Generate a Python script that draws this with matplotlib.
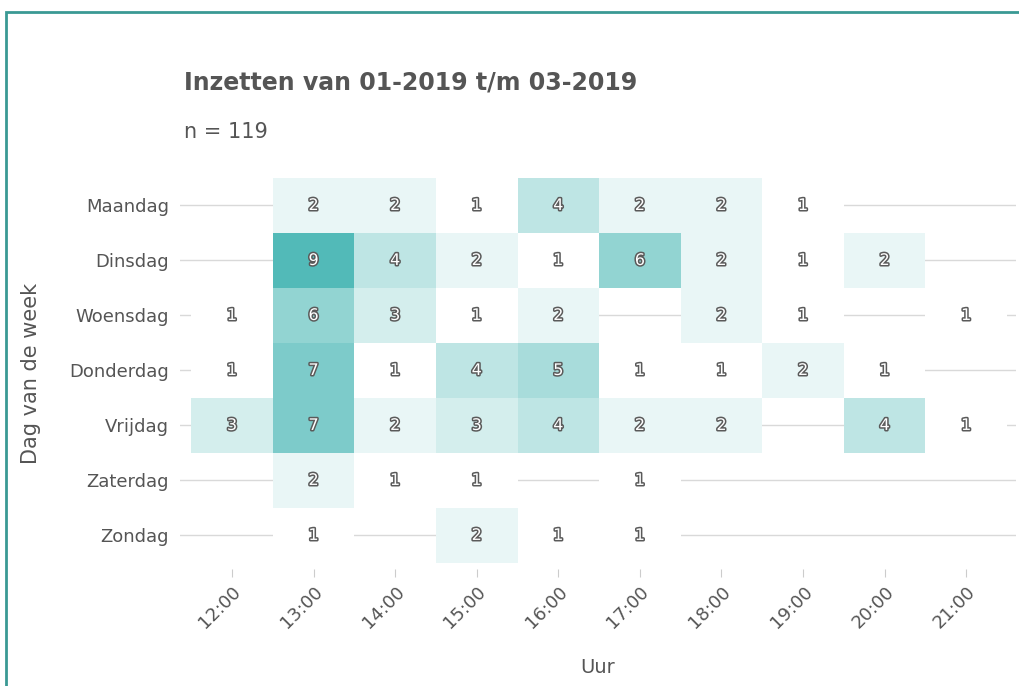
import matplotlib
matplotlib.use("Agg")
import matplotlib.pyplot as plt
import matplotlib.patheffects as pe
import numpy as np
from matplotlib.colors import LinearSegmentedColormap
from matplotlib.patches import Rectangle

# dagen en uren
dagen = ['Maandag', 'Dinsdag', 'Woensdag', 'Donderdag', 'Vrijdag', 'Zaterdag', 'Zondag']
uren = ['12:00', '13:00', '14:00', '15:00', '16:00', '17:00', '18:00', '19:00', '20:00', '21:00']

# aantal inzetten per dag per uur (0 = geen inzet)
maandag   = [0, 2, 2, 1, 4, 2, 2, 1, 0, 0]
dinsdag   = [0, 9, 4, 2, 1, 6, 2, 1, 2, 0]
woensdag  = [1, 6, 3, 1, 2, 0, 2, 1, 0, 1]
donderdag = [1, 7, 1, 4, 5, 1, 1, 2, 1, 0]
vrijdag   = [3, 7, 2, 3, 4, 2, 2, 0, 4, 1]
zaterdag  = [0, 2, 1, 1, 0, 1, 0, 0, 0, 0]
zondag    = [0, 1, 0, 2, 1, 1, 0, 0, 0, 0]

data = np.array([maandag, dinsdag, woensdag, donderdag, vrijdag, zaterdag, zondag])
totaal = int(data.sum())

grijs = '#555555'
cmap = LinearSegmentedColormap.from_list('teal', ['#ffffff', '#52bab8'])

fig = plt.figure(figsize=(10.2, 6.86), dpi=100)
ax = fig.add_axes([180 / 1020, 1 - 569 / 686, (1016 - 180) / 1020, (569 - 178) / 686])

# lege cellen weglaten zodat de rasterlijnen zichtbaar blijven
masked = np.ma.masked_equal(data, 0)
x_edges = np.arange(len(uren) + 1) - 0.5
y_edges = np.arange(len(dagen) + 1) - 0.5
ax.pcolormesh(x_edges, y_edges, masked, cmap=cmap, vmin=1, vmax=9,
              edgecolor='none', zorder=2)

for i in range(len(dagen)):
    for j in range(len(uren)):
        v = data[i, j]
        if v > 0:
            ax.text(j, i, str(v), ha='center', va='center', fontsize=11.5,
                    color='white', zorder=3,
                    path_effects=[pe.withStroke(linewidth=2.2, foreground='#5a5a5a')])

ax.set_xlim(-0.637, 9.61)
ax.set_ylim(6.61, -0.5)
ax.set_xticks(range(len(uren)))
ax.set_xticklabels(uren, rotation=45, ha='right', rotation_mode='anchor',
                   fontsize=13, color=grijs)
ax.set_yticks(range(len(dagen)))
ax.set_yticklabels(dagen, fontsize=13, color=grijs)

ax.tick_params(axis='x', length=6, width=0.8, color='#cccccc', pad=4)
ax.tick_params(axis='y', length=0, pad=8)
ax.set_axisbelow(True)
ax.grid(axis='y', color='#d9d9d9', linewidth=1, zorder=0)
for s in ax.spines.values():
    s.set_visible(False)

ax.set_xlabel('Uur', fontsize=14, color=grijs, labelpad=19)
ax.set_ylabel('Dag van de week', fontsize=15, color=grijs, labelpad=20)

fig.text(184 / 1020, 1 - 82 / 686, 'Inzetten van 01-2019 t/m 03-2019',
         fontsize=17, fontweight='bold', color=grijs, va='center')
fig.text(184 / 1020, 1 - 132 / 686, f'n = {totaal}',
         fontsize=15, color=grijs, va='center')

# kader om de figuur
fig.add_artist(Rectangle((6.5 / 1020, -0.1), 1.2, 1.1 - 12.5 / 686,
                         transform=fig.transFigure, fill=False,
                         edgecolor='#3a9994', linewidth=2))

fig.savefig('out.png', dpi=100)
